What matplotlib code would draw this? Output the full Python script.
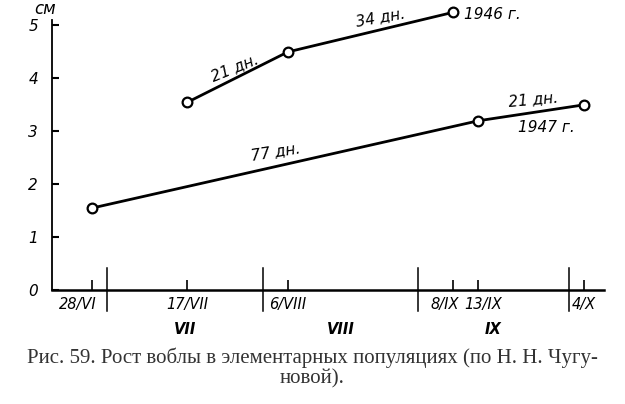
import matplotlib
matplotlib.use("Agg")
import matplotlib.pyplot as plt
import matplotlib.transforms as mtransforms

# day of year (1946/1947 are not leap years)
days_1946 = [198, 218, 251]          # 17/VII, 6/VIII, 8/IX
size_1946 = [3.55, 4.5, 5.25]
days_1947 = [179, 256, 277]          # 28/VI, 13/IX, 4/X
size_1947 = [1.55, 3.2, 3.5]

tick_days = [179, 198, 218, 251, 256, 277]
tick_labels = ["28/VI", "17/VII", "6/VIII", "8/IX", "13/IX", "4/X"]
month_starts = [182, 213, 244, 274]
month_names = ["VII", "VIII", "IX"]
month_mids = [197.5, 228.5, 259]

caption_1 = "Рис. 59. Рост воблы в элементарных популяциях (по Н. Н. Чугу-"
caption_2 = "новой)."

plt.rcParams['font.family'] = ['DejaVu Sans']
fig = plt.figure(figsize=(6.25, 4.04), dpi=100)
ax = fig.add_axes([0.0832, 0.282, 0.883, 0.668])

line_kw = dict(color="black", lw=2.0, marker="o", ms=7, mfc="white",
               mec="black", mew=1.6, clip_on=False, zorder=3)
ax.plot(days_1946, size_1946, **line_kw)
ax.plot(days_1947, size_1947, **line_kw)

ax.set_xlim(171, 281)
ax.set_ylim(0, 5.1)
for s in ["top", "right"]:
    ax.spines[s].set_visible(False)
ax.spines["left"].set_linewidth(1.3)
ax.spines["bottom"].set_linewidth(1.8)

ax.set_yticks([0, 1, 2, 3, 4, 5])
ax.set_yticklabels(["0", "1", "2", "3", "4", "5"], style="italic", fontsize=11)
ax.tick_params(axis="y", direction="in", length=5, width=1.5, pad=10)

ax.set_xticks(tick_days)
ax.set_xticklabels(tick_labels, style="italic", fontsize=10.5)
ax.tick_params(axis="x", direction="in", length=7, width=1.2, pad=5)
# nudge crowded labels like in the original
shifts = {"28/VI": -14, "8/IX": -9, "13/IX": 5}
for lab in ax.get_xticklabels():
    dx = shifts.get(lab.get_text(), 0)
    if dx:
        lab.set_transform(lab.get_transform() +
                          mtransforms.ScaledTranslation(dx / 100, 0, fig.dpi_scale_trans))

# month boundaries
for d in month_starts:
    ax.plot([d, d], [-0.4, 0.42], color="black", lw=1.1, clip_on=False)
for d, m in zip(month_mids, month_names):
    ax.text(d, -0.75, m, ha="center", va="center", style="italic",
            fontsize=10.5, fontweight="bold")

ax.text(-0.012, 1.04, "см", transform=ax.transAxes, ha="center", va="center",
        style="italic", fontsize=12)

# annotations
ann = dict(style="italic", fontsize=11, ha="center", va="center")
ax.text(207.5, 4.2, "21 дн.", rotation=22, **ann)
ax.text(236.5, 5.15, "34 дн.", rotation=10, **ann)
ax.text(258.8, 5.2, "1946 г.", **ann)
ax.text(215.5, 2.62, "77 дн.", rotation=9, **ann)
ax.text(267, 3.6, "21 дн.", rotation=5, **ann)
ax.text(269.5, 3.07, "1947 г.", **ann)

cap = dict(ha="center", va="center", fontsize=15,
           family=["Liberation Serif", "DejaVu Serif"], color="#333333")
fig.text(0.5, 1 - 358 / 404, caption_1, **cap)
fig.text(0.5, 1 - 379 / 404, caption_2, **cap)

fig.savefig("out.png", dpi=100)
